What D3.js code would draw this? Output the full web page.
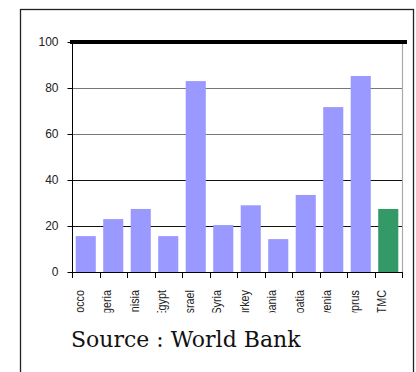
<!DOCTYPE html>
<html><head><meta charset="utf-8">
<script src="https://cdn.jsdelivr.net/npm/d3@7"></script>
<style>body{margin:0;background:#fff}svg{display:block}</style>
</head><body>
<script>
const categories = ["Morocco","Algeria","Tunisia","Egypt","Israel","Syria","Turkey","Albania","Croatia","Slovenia","Cyprus","TMC"];
const values = [15.6, 23, 27.4, 15.6, 83, 20.4, 29, 14.3, 33.5, 71.7, 85.2, 27.4];
const yTicks = [0, 20, 40, 60, 80, 100];
const highlight = "TMC";
const sourceText = "Source : World Bank";

(function () {
const W = 416, H = 372;
const svg = d3.select("body").append("svg").attr("width", W).attr("height", H);

// outer frame
svg.append("rect").attr("x", 20.5).attr("y", 9.5).attr("width", 393).attr("height", 380)
  .attr("fill", "#fff").attr("stroke", "#222").attr("stroke-width", 1.3);

const pL = 72, pR = 402, pT = 42, pB = 272;
const x = d3.scaleBand().domain(categories).range([pL, pR]).paddingInner(0.27).paddingOuter(0.135);
const y = d3.scaleLinear().domain([0, 100]).range([pB, pT]);

// right plot border
svg.append("line").attr("x1", pR + 0.5).attr("x2", pR + 0.5).attr("y1", pT).attr("y2", pB)
  .attr("stroke", "#aaa").attr("stroke-width", 1.2);

// gridlines
svg.append("g").selectAll("line").data(yTicks.filter(d => d > 0 && d < 100)).join("line")
  .attr("x1", pL).attr("x2", pR)
  .attr("y1", d => Math.round(y(d)) + 0.5).attr("y2", d => Math.round(y(d)) + 0.5)
  .attr("stroke", d => d >= 60 ? "#777" : "#111").attr("stroke-width", 1);

// bars
svg.append("g").selectAll("rect").data(categories).join("rect")
  .attr("x", d => x(d)).attr("width", x.bandwidth())
  .attr("y", (d, i) => y(values[i])).attr("height", (d, i) => y(0) - y(values[i]))
  .attr("fill", d => d === highlight ? "#339966" : "#9999FF");

// y axis
const yAxis = d3.axisLeft(y).tickValues(yTicks).tickSize(5).tickPadding(9);
const ya = svg.append("g").attr("transform", `translate(${pL + 0.5},0)`).call(yAxis);
ya.select(".domain").attr("d", `M0,${pT}V${pB + 6}`).attr("stroke", "#000");
ya.selectAll(".tick line").attr("stroke", "#000");
ya.selectAll(".tick text").attr("font-family", "Liberation Sans, Arial, sans-serif").attr("font-size", 12).attr("fill", "#222");

// x axis with boundary ticks
const xa = svg.append("g");
xa.append("line").attr("x1", pL).attr("x2", pR + 1).attr("y1", pB + 0.5).attr("y2", pB + 0.5).attr("stroke", "#000");
const edges = d3.range(categories.length + 1).map(i => pL + i * x.step());
xa.selectAll("line.tk").data(edges).join("line").attr("class", "tk")
  .attr("x1", d => Math.round(d) + 0.5).attr("x2", d => Math.round(d) + 0.5)
  .attr("y1", pB).attr("y2", pB + 6).attr("stroke", "#000");

// thick 100 line
svg.append("line").attr("x1", 70).attr("x2", 407).attr("y1", y(100)).attr("y2", y(100))
  .attr("stroke", "#000").attr("stroke-width", 4);

// clipped rotated labels
svg.append("clipPath").attr("id", "lc").append("rect").attr("x", pL - 10).attr("y", 284).attr("width", 350).attr("height", 28.5);
svg.append("g").attr("clip-path", "url(#lc)")
  .selectAll("text").data(categories).join("text")
  .attr("transform", d => `translate(${x(d) + x.bandwidth() / 2 - 2},290) rotate(-90) scale(0.8,1)`)
  .attr("text-anchor", "end")
  .attr("font-family", "Liberation Sans, Arial, sans-serif").attr("font-size", 13.5).attr("fill", "#222")
  .text(d => d);

// source
svg.append("text").attr("x", 71).attr("y", 347)
  .attr("font-family", "DejaVu Serif, serif").attr("font-size", 22).attr("fill", "#111")
  .text(sourceText);
})();
</script>
</body></html>
